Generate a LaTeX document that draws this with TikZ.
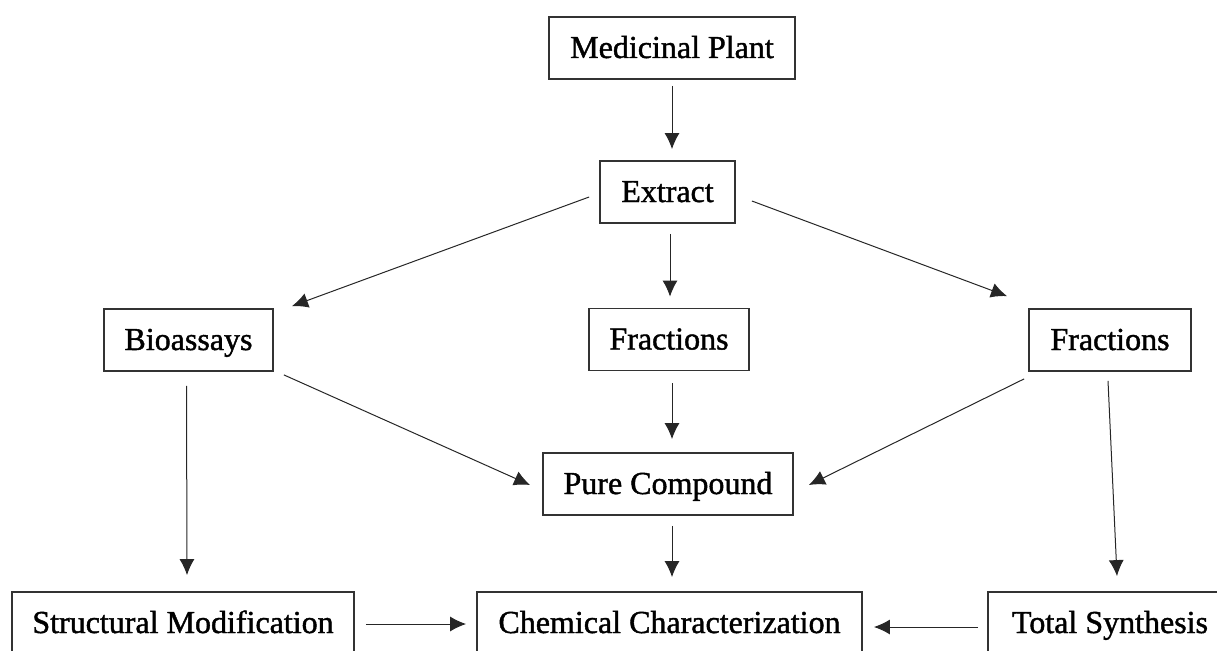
\documentclass[tikz,border=0pt]{standalone}
\usepackage{fontspec}
\setmainfont{Liberation Serif}
\newfontfamily\boxfont{Liberation Serif}[FakeBold=1.3]
\usetikzlibrary{arrows.meta,calc}
\tikzset{
  box/.style={draw=black!80, line width=1.8pt, minimum height=62pt, inner sep=0pt,
              text height=20pt, text depth=0pt,
              font=\boxfont\fontsize{32}{38}\selectfont, text=black},
  arr/.style={draw=black!85, line width=1pt, -{Latex[length=16pt,width=15pt]}}
}
\begin{document}
\begin{tikzpicture}[x=1pt,y=-1pt]
\useasboundingbox (0,0) rectangle (1217,650);
\clip (0,0) rectangle (1217,650);
\node[box, minimum width=246pt] (mp)  at (672,48)    {Medicinal Plant};
\node[box, minimum width=135pt] (ex)  at (667.5,192) {Extract};
\node[box, minimum width=169pt] (bio) at (188.5,340) {Bioassays};
\node[box, minimum width=160pt] (frc) at (669,339.5) {Fractions};
\node[box, minimum width=162pt] (frr) at (1110,340)  {Fractions};
\node[box, minimum width=250pt] (pc)  at (668,484)   {Pure Compound};
\node[box, minimum width=342pt] (sm)  at (183,623)   {Structural Modification};
\node[box, minimum width=385pt] (cc)  at (669.5,623) {Chemical Characterization};
\node[box, minimum width=244pt] (ts)  at (1110,623)  {Total Synthesis};

\draw[arr] ($(mp.south)+(0,6)$) -- ($(ex.north)+(4.5,-11)$);
\draw[arr] ($(ex.south)+(2.5,10)$) -- ($(frc.north)+(1,-11)$);
\draw[arr] ($(frc.south)+(3,12)$) -- ($(pc.north)+(4,-13)$);
\draw[arr] ($(pc.south)+(4,10)$) -- ($(cc.north)+(2.5,-14)$);
\draw[arr] ($(ex.west)+(-10,5)$) -- ($(bio.north)+(103.5,-2)$);
\draw[arr] ($(ex.east)+(16,9)$) -- ($(frr.north)+(-103,-12)$);
\draw[arr] ($(bio.south east)+(10,3)$) -- ($(pc.west)+(-12,1)$);
\draw[arr] ($(frr.south west)+(-4,7)$) -- ($(pc.east)+(15,1)$);
\draw[arr] ($(bio.south)+(-2,14)$) -- ($(sm.north)+(4,-16)$);
\draw[arr] ($(frr.south)+(-2,9)$) -- ($(ts.north)+(7,-15)$);
\draw[arr] ($(sm.east)+(11,1)$) -- ($(cc.west)+(-10,1)$);
\draw[arr] ($(ts.west)+(-9,4)$) -- ($(cc.east)+(11,4)$);
\end{tikzpicture}
\end{document}
